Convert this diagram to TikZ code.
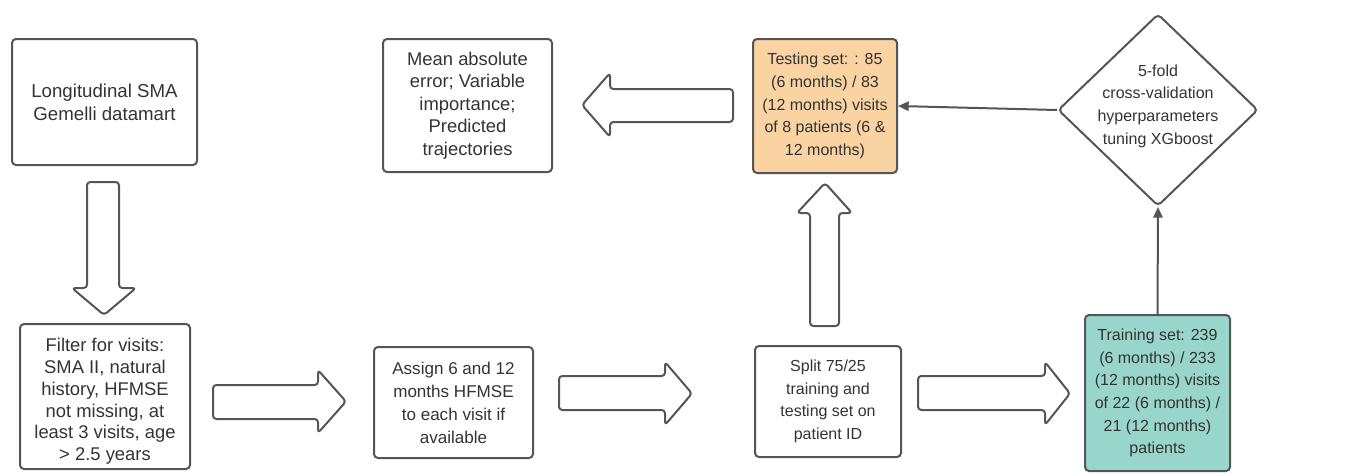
\documentclass[tikz,border=0pt]{standalone}
\usepackage{fontspec}
\setmainfont{Liberation Sans}
\usetikzlibrary{shapes.geometric,arrows.meta}
\definecolor{strk}{HTML}{555555}
\definecolor{txt}{HTML}{333333}
\definecolor{peach}{HTML}{F9D4A2}
\definecolor{tealbox}{HTML}{98D6CB}
\newcommand\fsSrc{\fontsize{14}{17.25}\selectfont}
\newcommand\fsFilt{\fontsize{13.8}{16.3}\selectfont}
\newcommand\fsMean{\fontsize{13.8}{16.9}\selectfont}
\newcommand\fsAsg{\fontsize{12.8}{17.3}\selectfont}
\newcommand\fsStd{\fontsize{12}{17}\selectfont}
\tikzset{
  box/.style={draw=strk, line width=1.5pt, rounded corners=3pt, align=center, text=txt, inner sep=0pt},
  blk/.style={draw=strk, line width=1.5pt, rounded corners=2.5pt, fill=white, line join=round},
  conn/.style={draw=strk, line width=1.5pt, -{Triangle[length=8pt,width=7pt]}},
}
\begin{document}
\begin{tikzpicture}[x=0.75pt, y=-0.75pt]
\useasboundingbox (0,0) rectangle (1349,475);
% boxes
\node[box, font=\fsSrc, minimum width=138.75pt, minimum height=94.5pt] (src) at (104.5,102) {Longitudinal SMA\\Gemelli datamart};
\node[box, font=\fsFilt, minimum width=127.5pt, minimum height=108.75pt] (filt) at (105,396.5) {\rule{0pt}{17.5pt}Filter for visits:\\SMA II, natural\\history, HFMSE\\not missing, at\\least 3 visits, age\\> 2.5 years};
\node[box, font=\fsAsg, minimum width=119.25pt, minimum height=83.25pt] (asg) at (453.5,402.5) {Assign 6 and 12\\months HFMSE\\to each visit if\\available};
\node[box, font=\fsStd, minimum width=109.5pt, minimum height=83.25pt] (split) at (828,401.5) {Split 75/25\\training and\\testing set on\\patient ID};
\node[box, font=\fsStd, fill=tealbox, minimum width=108.75pt, minimum height=117pt] (train) at (1157.5,393) {Training set: 239\\(6 months) / 233\\(12 months) visits\\of 22 (6 months) /\\21 (12 months)\\patients};
\node[box, font=\fsStd, fill=peach, minimum width=108pt, minimum height=100.5pt] (test) at (825,106) {Testing set: : 85\\(6 months) / 83\\(12 months) visits\\of 8 patients (6 \&\\12 months)};
\node[box, font=\fsMean, minimum width=126.75pt, minimum height=99.75pt] (mae) at (467.5,105.5) {Mean absolute\\error; Variable\\importance;\\Predicted\\trajectories};
\node[diamond, draw=strk, line width=1.5pt, rounded corners=3pt, inner sep=0pt, minimum width=150pt, minimum height=144pt] (cv) at (1158,110) {};
\node[align=center, text=txt, inner sep=0pt, font=\fsStd] (cvtext) at (1158,106) {5-fold\\cross-validation\\hyperparameters\\tuning XGboost};
% block arrows
\draw[blk] (87,182) -- (119,182) -- (119,288) -- (136,288) -- (104,315) -- (72,288) -- (87,288) -- cycle;
\draw[blk] (213,385) -- (318,385) -- (318,370) -- (346,401.5) -- (318,433) -- (318,419) -- (213,419) -- cycle;
\draw[blk] (559,376) -- (665,376) -- (665,362) -- (692,393.5) -- (665,425) -- (665,410) -- (559,410) -- cycle;
\draw[blk] (918,376) -- (1045,376) -- (1045,362) -- (1070,393.5) -- (1045,425) -- (1045,410) -- (918,410) -- cycle;
\draw[blk] (810,326) -- (810,213) -- (797,213) -- (825,183) -- (852,213) -- (839,213) -- (839,326) -- cycle;
\draw[blk] (733,89) -- (610,89) -- (610,73) -- (582,105) -- (610,137) -- (610,122) -- (733,122) -- cycle;
% connectors
\draw[conn] (train.north) -- (cv.south);
\draw[conn] (cv.west) -- (test.east);
\end{tikzpicture}
\end{document}
